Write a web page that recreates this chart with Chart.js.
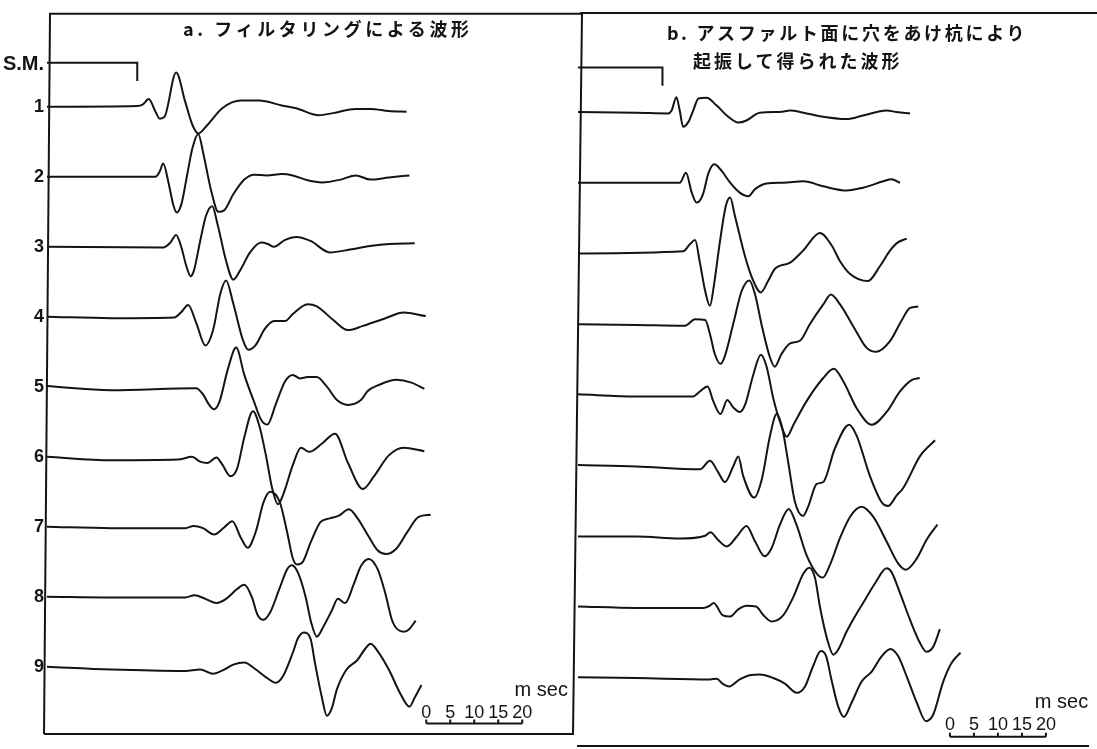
<!DOCTYPE html>
<html lang="ja">
<head>
<meta charset="utf-8">
<script src="https://cdn.jsdelivr.net/npm/chart.js@4/dist/chart.umd.min.js"></script>
<style>
  html, body { margin: 0; padding: 0; background: #fff; }
  #wrap { position: relative; width: 1097px; height: 749px; overflow: hidden; background: #fff; }
  canvas { position: absolute; top: 0; }
  #chartA { left: 0; }
  #chartB { left: 577px; }
  .title { position: absolute; font-family: "Noto Sans CJK JP", sans-serif; font-size: 18px; font-weight: 700;
           color: #141414; white-space: nowrap; line-height: 26px; }
</style>
</head>
<body>
<div id="wrap">
  <canvas id="chartA" width="590" height="749"></canvas>
  <canvas id="chartB" width="520" height="749"></canvas>
  <div class="title" style="left:183px; top:15px; letter-spacing:3.6px;">a. フィルタリングによる波形</div>
  <div class="title" style="left:667px; top:19px; letter-spacing:2.7px;">b. アスファルト面に穴をあけ杭により</div>
  <div class="title" style="left:693px; top:47px; letter-spacing:3px;">起振して得られた波形</div>
</div>
<script>
/* Seismic traces, two panels. x = time in ms from the panel's left frame,
 * amplitude in units of the trace spacing (positive = up). */
var rowLabels = ['S.M.', '1', '2', '3', '4', '5', '6', '7', '8', '9'];
var rowValues = [0.4, 1, 2, 3, 4, 5, 6, 7, 8, 9];
var smRow = 0.37;
var scaleTicksMs = [0, 5, 10, 15, 20];
var scaleLabels = ['0', '5', '10', '15', '20'];

// a. filtered waveforms
var smMarkA = [[0, 0], [18.8, 0], [18.8, -0.26]];
var filteredWaves = [
  [[0,0],[18.8,0.01],[19.9,0.03],[21.2,0.11],[22.6,-0.07],[23.5,-0.17],[24.5,-0.14],[26.9,0.49],[28.8,0.07],[30.3,-0.26],[31.5,-0.38],[33.4,-0.26],[36.5,-0.02],[40.4,0.09],[44.2,0.09],[48.9,0.02],[51.9,-0.02],[56.6,-0.12],[59.6,-0.09],[64.3,-0.03],[67.4,-0.03],[71.2,-0.06],[74.9,-0.07]],
  [[0,0],[22.6,0],[23.5,0.08],[24.2,0.19],[25.3,-0.08],[26.3,-0.40],[27.0,-0.51],[28.0,-0.39],[29.2,0.03],[30.3,0.41],[31.5,0.61],[32.6,0.32],[34.2,-0.20],[35.7,-0.50],[36.9,-0.48],[38.8,-0.25],[41.1,-0.04],[43.1,0.03],[45.8,0.02],[48.9,0.04],[51.2,0.02],[54.3,-0.05],[57.3,-0.08],[61.2,-0.04],[64.3,0.02],[67.4,-0.04],[71.2,-0.01],[75.5,0.02]],
  [[0,0],[24.2,-0.01],[25.7,0.06],[26.9,0.17],[28.0,-0.01],[29.0,-0.27],[29.9,-0.42],[30.6,-0.34],[31.9,0.08],[33.1,0.44],[34.4,0.58],[35.6,0.30],[37.3,-0.20],[38.8,-0.47],[40.2,-0.34],[42.3,-0.08],[44.6,0.06],[46.0,0.04],[47.3,0],[49.6,0.10],[51.9,0.14],[55.0,0.08],[58.9,-0.08],[63.1,-0.04],[67.3,0.01],[71.3,0.04],[76.6,0.05]],
  [[0,0],[13.4,-0.02],[26.5,-0.01],[28.0,0.07],[29.4,0.17],[31.1,-0.09],[33.0,-0.41],[34.6,-0.19],[36.1,0.33],[37.3,0.52],[38.8,0.19],[40.8,-0.33],[41.9,-0.47],[43.5,-0.40],[45.4,-0.17],[47.3,-0.06],[49.6,-0.06],[51.2,0.04],[54.3,0.18],[56.2,0.15],[59.7,-0.05],[62.7,-0.19],[65.8,-0.13],[70.5,-0.02],[74.3,0.06],[78.9,0.01]],
  [[0,0.01],[13.4,-0.05],[31.1,-0.02],[32.5,-0.11],[33.8,-0.26],[34.8,-0.32],[35.9,-0.22],[37.7,0.26],[39.4,0.56],[41.1,0.17],[43.1,-0.21],[44.6,-0.47],[45.9,-0.54],[47.7,-0.24],[49.6,0.08],[51.2,0.17],[52.7,0.12],[54.3,0.14],[56.2,0.14],[58.1,0.02],[60.4,-0.19],[62.7,-0.26],[65.4,-0.19],[66.8,-0.06],[68.9,0.02],[72.8,0.10],[75.9,0.06],[78.6,-0.03]],
  [[0,0],[13.4,-0.05],[27.3,-0.04],[30.2,0],[31.9,-0.07],[33.4,-0.09],[35.3,-0.01],[36.5,-0.11],[38.2,-0.28],[39.6,-0.17],[41.1,0.28],[42.9,0.65],[44.2,0.45],[45.6,0.02],[46.9,-0.45],[48.1,-0.68],[49.2,-0.54],[51.2,-0.12],[52.9,0.13],[54.6,0.07],[57.3,0.19],[60.0,0.33],[62.7,-0.09],[65.8,-0.46],[68.1,-0.28],[71.2,0.02],[74.3,0.13],[78.6,0.08]],
  [[0,0],[13.4,-0.02],[28.8,-0.02],[30.5,0.01],[32.5,-0.02],[34.8,-0.11],[36.9,-0.01],[38.6,0.08],[40.4,-0.16],[41.8,-0.30],[43.5,-0.07],[45.1,0.35],[46.5,0.50],[48.5,0.35],[50.0,-0.07],[51.2,-0.45],[52.1,-0.54],[53.3,-0.50],[55.0,-0.21],[57.0,0.07],[58.9,0.12],[60.8,0.16],[62.9,0.25],[64.7,0.12],[67.0,-0.14],[68.9,-0.34],[70.6,-0.39],[72.8,-0.31],[75.1,-0.07],[77.4,0.14],[79.9,0.17]],
  [[0,0],[13.4,-0.01],[28.8,-0.01],[30.7,0.02],[33.0,-0.03],[35.3,-0.09],[37.3,-0.03],[39.6,0.11],[41.1,0.17],[42.7,-0.01],[43.8,-0.25],[45.0,-0.33],[46.5,-0.22],[48.5,0.13],[50.0,0.39],[51.0,0.45],[52.3,0.34],[53.9,-0.01],[55.0,-0.36],[56.2,-0.57],[57.7,-0.41],[59.3,-0.20],[60.6,-0.03],[62.1,-0.09],[63.9,0.18],[65.4,0.44],[67.0,0.54],[68.9,0.39],[70.5,0.04],[72.0,-0.36],[74.3,-0.50],[75.5,-0.46],[76.8,-0.34]],
  [[0,0],[13.4,-0.04],[28.8,-0.06],[31.9,-0.04],[34.6,-0.10],[36.9,-0.04],[38.8,0.03],[41.1,0.06],[43.5,-0.04],[45.8,-0.16],[47.7,-0.23],[49.2,-0.13],[51.2,0.20],[52.3,0.41],[53.5,0.49],[54.9,0.40],[55.8,0.06],[57.2,-0.42],[58.3,-0.70],[59.3,-0.60],[60.4,-0.32],[62.4,-0.04],[64.7,0.10],[66.2,0.25],[67.4,0.33],[68.9,0.22],[71.2,-0.04],[73.5,-0.37],[75.5,-0.57],[76.6,-0.44],[78.0,-0.26]]
];

// b. waveforms from a stake driven into a hole in the asphalt
var smMarkB = [[0, 0], [17.6, 0], [17.6, -0.26]];
var drilledWaves = [
  [[0,0],[12.2,-0.01],[18.8,-0.02],[19.5,0.02],[20.5,0.21],[21.2,0.02],[21.9,-0.21],[23.0,-0.14],[24.0,0.02],[25.1,0.19],[26.8,0.20],[28.9,0.09],[31.0,-0.05],[33.4,-0.15],[35.1,-0.12],[37.9,-0.01],[42.1,0],[44.2,0.02],[47.0,-0.01],[50.4,-0.06],[56.0,-0.10],[59.4,-0.05],[64.3,0.02],[66.4,0],[69.2,-0.02]],
  [[0,0],[12.2,0],[21.2,0],[22.5,0.14],[23.7,-0.14],[24.7,-0.28],[26.0,-0.17],[27.2,0.14],[28.4,0.26],[29.9,0.17],[31.7,0],[33.7,-0.14],[35.5,-0.19],[36.9,-0.09],[39.3,-0.01],[42.8,0],[47.0,0.02],[51.1,-0.05],[56.0,-0.11],[59.4,-0.07],[63.6,0.02],[65.3,0.05],[67.1,0]],
  [[0,0],[21.9,0.03],[23.3,0.13],[24.4,0.19],[25.4,-0.13],[26.5,-0.53],[27.5,-0.74],[28.3,-0.46],[29.6,0.18],[30.8,0.67],[31.7,0.79],[32.7,0.53],[34.8,-0.04],[36.3,-0.35],[38.1,-0.55],[39.6,-0.39],[41.0,-0.22],[44.2,-0.13],[46.9,0.04],[50.4,0.29],[52.9,0.11],[54.6,-0.11],[56.7,-0.29],[60.4,-0.39],[62.9,-0.18],[65.0,0.04],[66.5,0.15],[68.5,0.21]],
  [[0,0],[12.2,-0.01],[22.3,-0.02],[24.4,0.07],[26.5,0.06],[27.5,-0.14],[28.5,-0.42],[29.7,-0.56],[30.6,-0.45],[32.4,0.02],[34.1,0.47],[35.7,0.62],[36.9,0.42],[38.3,-0.02],[40.0,-0.47],[41.0,-0.60],[42.4,-0.42],[44.2,-0.27],[46.3,-0.23],[48.3,0],[51.1,0.28],[52.7,0.42],[54.6,0.28],[57.7,-0.07],[60.1,-0.33],[62.2,-0.39],[65.0,-0.24],[67.4,0.05],[69.2,0.23],[70.9,0.25]],
  [[0,0.01],[12.2,-0.02],[24.0,-0.02],[25.4,0.05],[27.0,0.12],[28.2,-0.09],[29.7,-0.27],[31.1,-0.07],[32.4,-0.18],[33.7,-0.24],[34.8,-0.14],[36.5,0.28],[38.1,0.57],[39.3,0.40],[40.7,-0.05],[42.1,-0.38],[43.5,-0.59],[44.9,-0.42],[47.6,-0.09],[51.1,0.24],[53.3,0.37],[55.3,0.19],[58.1,-0.19],[61.2,-0.42],[64.3,-0.24],[67.1,0.05],[69.5,0.21],[71.2,0.24]],
  [[0,0.01],[12.2,-0.01],[25.4,-0.05],[27.5,0.07],[29.2,-0.09],[30.6,-0.23],[32.4,0],[33.4,0.13],[34.4,-0.14],[36.7,-0.45],[38.3,-0.19],[40.0,0.42],[41.4,0.73],[42.6,0.52],[43.8,0.05],[45.2,-0.51],[46.9,-0.71],[48.0,-0.57],[49.7,-0.26],[51.1,-0.23],[53.5,0.24],[56.5,0.58],[58.1,0.42],[60.8,-0.14],[63.3,-0.52],[64.6,-0.57],[66.4,-0.42],[67.8,-0.31],[71.3,0.14],[74.4,0.36]],
  [[0,0],[12.2,0],[21.2,-0.03],[26.5,0.01],[27.6,0.06],[29.2,-0.05],[31.0,-0.14],[33.1,0],[35.1,0.15],[36.9,-0.07],[38.9,-0.28],[40.3,-0.17],[42.1,0.17],[43.9,0.39],[45.5,0.17],[47.6,-0.26],[49.7,-0.52],[51.0,-0.58],[52.5,-0.40],[54.6,-0.02],[56.7,0.28],[59.1,0.42],[61.5,0.28],[64.3,-0.07],[66.7,-0.38],[68.3,-0.47],[70.6,-0.31],[72.6,-0.05],[74.9,0.17]],
  [[0,0.01],[12.2,-0.01],[26.1,-0.01],[27.4,0.02],[28.3,0.06],[30.1,-0.11],[31.7,-0.13],[33.4,-0.03],[35.1,0.02],[37.1,0.01],[38.6,-0.11],[40.3,-0.20],[42.8,-0.11],[44.9,0.15],[47.0,0.48],[48.2,0.56],[49.4,0.41],[50.4,0.01],[51.8,-0.42],[53.2,-0.67],[54.2,-0.60],[56.0,-0.34],[57.7,-0.13],[59.4,0.06],[61.9,0.34],[64.3,0.55],[65.3,0.50],[67.1,0.20],[69.2,-0.18],[71.3,-0.51],[72.6,-0.63],[74.0,-0.56],[75.4,-0.31]],
  [[0,0.01],[12.2,0],[27.5,-0.02],[28.9,-0.01],[30.1,-0.08],[31.5,-0.12],[33.7,-0.02],[35.8,0.04],[37.9,0.05],[40.7,0],[43.1,-0.08],[45.6,-0.21],[47.3,-0.12],[49.0,0.17],[50.6,0.38],[51.7,0.31],[52.8,-0.02],[54.2,-0.40],[55.4,-0.55],[57.0,-0.35],[59.1,-0.05],[61.2,0.09],[63.3,0.31],[65.1,0.41],[66.7,0.31],[68.5,0.02],[70.6,-0.35],[72.5,-0.61],[74.0,-0.52],[76.1,-0.05],[77.8,0.21],[79.7,0.36]]
];

var INK = '#141414';

function buildDatasets(smMark, waves) {
  var sets = [{
    data: smMark.map(function (p) { return { x: p[0], y: smRow - p[1] }; }),
    borderColor: INK, borderWidth: 2, pointRadius: 0, tension: 0
  }];
  waves.forEach(function (w, i) {
    var row = i + 1;
    sets.push({
      data: w.map(function (p) { return { x: p[0], y: row - p[1] }; }),
      borderColor: INK, borderWidth: 2, pointRadius: 0,
      cubicInterpolationMode: 'monotone'
    });
  });
  return sets;
}

// Frame lines + the little "0 5 10 15 20 m sec" scale bar, placed through the scales.
// The scanned original is skewed a little, so vertical frame lines lean by o.lean px.
var panelDecor = {
  id: 'panelDecor',
  afterDatasetsDraw: function (chart, args, o) {
    var ctx = chart.ctx, a = chart.chartArea;
    var xs = chart.scales.x, ys = chart.scales.y;
    ctx.save();
    ctx.strokeStyle = INK;
    ctx.lineWidth = 2;
    ctx.beginPath();
    o.sides.forEach(function (s) {
      if (s === 'top')    { ctx.moveTo(a.left + 2, a.top); ctx.lineTo(a.right + 5, a.top); }
      if (s === 'bottom') { ctx.moveTo(a.left - 3, a.bottom); ctx.lineTo(a.right - 3, a.bottom); }
      if (s === 'left')   { ctx.moveTo(a.left + 3, a.top); ctx.lineTo(a.left - 3, a.bottom); }
      if (s === 'right')  { ctx.moveTo(a.right + 5, a.top); ctx.lineTo(a.right - 4, a.bottom); }
    });
    ctx.stroke();

    var span = scaleTicksMs[scaleTicksMs.length - 1];
    var yb = ys.getPixelForValue(o.barRow);
    ctx.beginPath();
    ctx.moveTo(xs.getPixelForValue(o.barStart), yb);
    ctx.lineTo(xs.getPixelForValue(o.barStart + span), yb);
    scaleTicksMs.forEach(function (t) {
      var xp = xs.getPixelForValue(o.barStart + t);
      ctx.moveTo(xp, yb); ctx.lineTo(xp, yb - 4);
    });
    ctx.stroke();

    ctx.fillStyle = INK;
    ctx.textBaseline = 'middle';
    ctx.textAlign = 'center';
    ctx.font = '18px "Liberation Sans", sans-serif';
    var yn = ys.getPixelForValue(o.numRow);
    scaleTicksMs.forEach(function (t, i) {
      ctx.fillText(scaleLabels[i], xs.getPixelForValue(o.barStart + t), yn);
    });
    ctx.textAlign = 'right';
    ctx.font = '20px "Liberation Sans", sans-serif';
    ctx.fillText('m sec', xs.getPixelForValue(o.unitAt), ys.getPixelForValue(o.unitRow));
    ctx.restore();
  }
};

function makeChart(id, smMark, waves, cfg) {
  return new Chart(document.getElementById(id), {
    type: 'line',
    data: { datasets: buildDatasets(smMark, waves) },
    options: {
      responsive: false, animation: false, devicePixelRatio: 1,
      layout: { padding: cfg.padding },
      plugins: { legend: { display: false }, tooltip: { enabled: false }, panelDecor: cfg.decor },
      scales: {
        x: { type: 'linear', min: 0, max: cfg.xMax, display: false },
        y: {
          type: 'linear', reverse: true, min: cfg.yMin, max: cfg.yMax,
          display: cfg.rowAxisWidth > 0,
          grid: { display: false, drawTicks: false }, border: { display: false },
          afterBuildTicks: function (s) { s.ticks = rowValues.map(function (v) { return { value: v }; }); },
          afterFit: function (s) { s.width = cfg.rowAxisWidth; },
          ticks: {
            padding: 3, color: INK,
            // the S.M. label is set a little larger than the trace numbers
            font: function (c) {
              var sm = c.tick && c.tick.value === rowValues[0];
              return { family: '"Liberation Sans", sans-serif', size: sm ? 20 : 18, weight: 'bold' };
            },
            callback: function (v) { return rowLabels[rowValues.indexOf(v)]; }
          }
        }
      }
    },
    plugins: [panelDecor]
  });
}

makeChart('chartA', smMarkA, filteredWaves, {
  padding: { left: 0, right: 13, top: 11, bottom: 10 },
  xMax: 110.4, yMin: -0.329, yMax: 9.961, rowAxisWidth: 47,
  decor: { sides: ['top', 'bottom', 'left', 'right'], barStart: 79, barRow: 9.81, numRow: 9.66, unitRow: 9.34, unitAt: 108.5 }
});
makeChart('chartB', smMarkB, drilledWaves, {
  padding: { left: 1, right: 5, top: 13, bottom: 3 },
  xMax: 107.1, yMin: -0.399, yMax: 9.961, rowAxisWidth: 0,
  decor: { sides: ['top', 'bottom'], barStart: 77.5, barRow: 9.83, numRow: 9.66, unitRow: 9.34, unitAt: 106.3 }
});
</script>
</body>
</html>
